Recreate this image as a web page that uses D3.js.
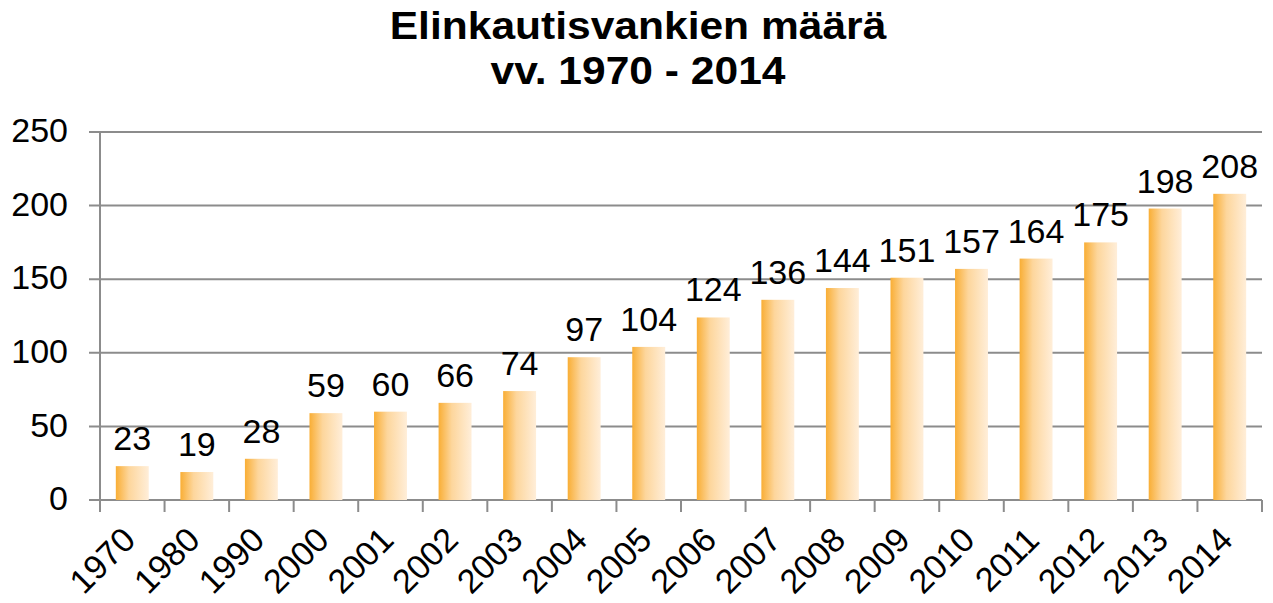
<!DOCTYPE html>
<html>
  <head>
    <style>
      body { margin: 0; background: #fff; }
      svg text { font-family: "Liberation Sans", Arial, sans-serif; fill: #000; }
    </style>
  </head>
  <body>
    <script src="https://d3js.org/d3.v7.min.js"></script>
    <script>
      // data
      const years = ["1970", "1980", "1990", "2000", "2001", "2002", "2003", "2004", "2005",
                     "2006", "2007", "2008", "2009", "2010", "2011", "2012", "2013", "2014"];
      const prisoners = [23, 19, 28, 59, 60, 66, 74, 97, 104, 124, 136, 144, 151, 157, 164, 175, 198, 208];
      const yTicks = [0, 50, 100, 150, 200, 250];
      const titleLines = ["Elinkautisvankien määrä", "vv. 1970 - 2014"];

      const W = 1273, H = 603;
      const plotLeft = 100, plotRight = 1262, plotTop = 132, plotBottom = 500;

      const svg = d3.select("body").append("svg")
        .attr("width", W)
        .attr("height", H);

      const grad = svg.append("defs").append("linearGradient")
        .attr("id", "barGrad")
        .attr("x1", "0%").attr("x2", "100%").attr("y1", "0%").attr("y2", "0%");
      grad.append("stop").attr("offset", "0%").attr("stop-color", "#f9ae35");
      grad.append("stop").attr("offset", "40%").attr("stop-color", "#fdd69c");
      grad.append("stop").attr("offset", "100%").attr("stop-color", "#ffeed9");

      const x = d3.scaleBand()
        .domain(years)
        .range([plotLeft, plotRight])
        .paddingInner(0.49)
        .paddingOuter(0.245);

      const y = d3.scaleLinear()
        .domain([0, 250])
        .range([plotBottom, plotTop]);

      // gridlines
      svg.append("g")
        .selectAll("line")
        .data(yTicks)
        .join("line")
        .attr("x1", plotLeft - 11)
        .attr("x2", plotRight)
        .attr("y1", d => y(d))
        .attr("y2", d => y(d))
        .attr("stroke", "#8c8c8c")
        .attr("stroke-width", 2);

      // y tick labels
      svg.append("g")
        .selectAll("text")
        .data(yTicks)
        .join("text")
        .attr("x", 68)
        .attr("y", d => y(d))
        .attr("dy", "0.3em")
        .attr("text-anchor", "end")
        .style("font-size", "34px")
        .text(d => d);

      // y axis line
      svg.append("line")
        .attr("x1", plotLeft).attr("x2", plotLeft)
        .attr("y1", plotTop).attr("y2", plotBottom)
        .attr("stroke", "#8c8c8c")
        .attr("stroke-width", 2);

      // x ticks at category boundaries
      const step = x.step();
      const bounds = years.map(d => x(d) - step * x.paddingInner() / 2).concat([plotRight]);
      svg.append("g")
        .selectAll("line")
        .data(bounds)
        .join("line")
        .attr("x1", d => d).attr("x2", d => d)
        .attr("y1", plotBottom).attr("y2", plotBottom + 12)
        .attr("stroke", "#8c8c8c")
        .attr("stroke-width", 2);

      // bars
      svg.append("g")
        .selectAll("rect")
        .data(prisoners)
        .join("rect")
        .attr("x", (d, i) => x(years[i]))
        .attr("y", d => y(d))
        .attr("width", x.bandwidth())
        .attr("height", d => plotBottom - y(d))
        .attr("fill", "url(#barGrad)");

      // value labels
      svg.append("g")
        .selectAll("text")
        .data(prisoners)
        .join("text")
        .attr("x", (d, i) => x(years[i]) + x.bandwidth() / 2)
        .attr("y", d => y(d) - 16)
        .attr("text-anchor", "middle")
        .style("font-size", "34px")
        .text(d => d);

      // x labels rotated
      svg.append("g")
        .selectAll("text")
        .data(years)
        .join("text")
        .attr("transform", d => `translate(${x(d) + x.bandwidth() / 2 + 5},${plotBottom + 42}) rotate(-45)`)
        .attr("text-anchor", "end")
        .style("font-size", "34px")
        .text(d => d);

      // title, slightly stretched horizontally like the original
      svg.append("g")
        .selectAll("text")
        .data(titleLines)
        .join("text")
        .attr("transform", (d, i) => `translate(638,${39 + i * 45}) scale(1.12,1)`)
        .attr("text-anchor", "middle")
        .style("font-size", "38px")
        .style("font-weight", "bold")
        .text(d => d);
    </script>
  </body>
</html>
